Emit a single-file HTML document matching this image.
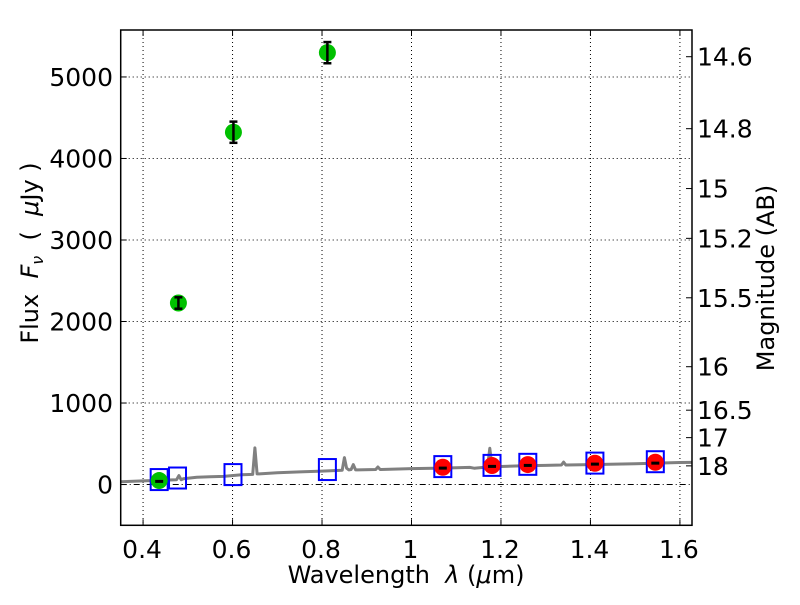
<!DOCTYPE html>
<html><head><meta charset="utf-8">
<style>
body{margin:0;background:#fff;}
svg text{font-family:"DejaVu Sans","Liberation Sans",sans-serif;fill:#000;}
</style></head>
<body>
<svg id="chart" width="800" height="600" viewBox="0 0 800 600" xmlns="http://www.w3.org/2000/svg">
<g id="grid"></g>
<g id="model"></g>
<g id="marks"></g>
<g id="axes"></g>
</svg>
<script>
const xTicks=[0.4,0.6,0.8,1.0,1.2,1.4,1.6];
const xTickLabels=["0.4","0.6","0.8","1","1.2","1.4","1.6"];
const yTicks=[0,1000,2000,3000,4000,5000];
const magTicks=[14.6,14.8,15,15.2,15.5,16,16.5,17,18];
const magTickLabels=["14.6","14.8","15","15.2","15.5","16","16.5","17","18"];
const greenWave=[0.436,0.479,0.602,0.812];
const greenFlux=[49,2227,4322,5298];
const greenErr=[8,70,130,130];
const redWave=[1.07,1.18,1.26,1.41,1.545];
const redFlux=[212,233,245,261,273];
const redErr=[8,8,8,8,8];
const modelWave=[0.436,0.477,0.601,0.812,1.07,1.18,1.26,1.41,1.545];
const modelFlux=[61,80,122,184,220,235,248,263,280];
const specWave=[0.35,0.40,0.45,0.475,0.48,0.485,0.49,0.52,0.55,0.58,0.62,0.645,0.65,0.655,0.66,0.70,0.75,0.80,0.845,0.85,0.855,0.86,0.865,0.87,0.875,0.88,0.92,0.925,0.93,1.0,1.05,1.1,1.13,1.14,1.17,1.175,1.18,1.185,1.19,1.25,1.3,1.335,1.34,1.345,1.4,1.5,1.6,1.627];
const specFlux=[35,45,55,60,110,60,70,90,95,100,120,125,450,130,130,145,155,165,175,330,200,180,185,245,180,180,185,215,185,195,200,205,210,200,215,445,220,215,220,230,235,240,275,240,245,255,270,272];
const X0=120.7,X1=692,Y0=30,Y1=525.3,xmin=0.35,xmax=1.627,ymin=-500,ymax=5576;
const sx=v=>X0+(v-xmin)/(xmax-xmin)*(X1-X0);
const sy=v=>Y1-(v-ymin)/(ymax-ymin)*(Y1-Y0);
const magToFlux=m=>3631e6*Math.pow(10,-0.4*m);
const NS="http://www.w3.org/2000/svg";
function mk(p,t,a){const e=document.createElementNS(NS,t);for(const k in a)e.setAttribute(k,a[k]);p.appendChild(e);return e;}
const grid=document.getElementById('grid'),axes=document.getElementById('axes'),marks=document.getElementById('marks'),model=document.getElementById('model');
xTicks.forEach((t,i)=>{
 const g=mk(grid,'line',{x1:sx(t),x2:sx(t),y1:Y0,y2:Y1,stroke:'#000','stroke-width':1,'stroke-dasharray':'1,3'});
 
 mk(axes,'line',{x1:sx(t),x2:sx(t),y1:Y1,y2:Y1-6,stroke:'#000'});
 mk(axes,'line',{x1:sx(t),x2:sx(t),y1:Y0,y2:Y0+6,stroke:'#000'});
 const l=mk(axes,'text',{x:sx(t)-1,y:558,'font-size':25,'text-anchor':'middle'});l.textContent=xTickLabels[i];
 
});
yTicks.forEach(t=>{
 const g=mk(grid,'line',{x1:X0,x2:X1,y1:sy(t),y2:sy(t),stroke:'#000','stroke-width':1,'stroke-dasharray':t===0?'6,3,1,3':'1,3'});
 
 mk(axes,'line',{x1:X0,x2:X0+6,y1:sy(t),y2:sy(t),stroke:'#000'});
 const l=mk(axes,'text',{x:113,y:sy(t)+9,'font-size':25,'text-anchor':'end'});l.textContent=String(t);
 
});
magTicks.forEach((m,i)=>{
 const y=sy(magToFlux(m));
 mk(axes,'line',{x1:X1,x2:X1-6,y1:y,y2:y,stroke:'#000'});
 const l=mk(axes,'text',{x:697,y:y+9,'font-size':25});l.textContent=magTickLabels[i];
 
});
let d=specWave.map((w,i)=>(i?'L':'M')+sx(w).toFixed(1)+','+sy(specFlux[i]).toFixed(1)).join('');
const sp=mk(model,'path',{d:d,fill:'none',stroke:'#808080','stroke-width':3,'stroke-linejoin':'round'});

modelWave.forEach((w,i)=>{
 const s=mk(marks,'rect',{x:sx(w)-8.5,y:sy(modelFlux[i])-10.5,width:17,height:21,fill:'none',stroke:'#0000ff','stroke-width':2});
 
});
function pts(ws,fs,es,col,name){
 ws.forEach((w,i)=>{
  const c=mk(marks,'circle',{cx:sx(w),cy:sy(fs[i]),r:8.5,fill:col});
  
  const x=sx(w),ya=sy(fs[i]+es[i]),yb=sy(fs[i]-es[i]);
  if(es[i]>20){
   mk(marks,'line',{x1:x,x2:x,y1:ya,y2:yb,stroke:'#000','stroke-width':2.5});
   mk(marks,'line',{x1:x-4,x2:x+4,y1:ya,y2:ya,stroke:'#000','stroke-width':2.5});
   mk(marks,'line',{x1:x-4,x2:x+4,y1:yb,y2:yb,stroke:'#000','stroke-width':2.5});
  } else {
   mk(marks,'rect',{x:x-4,y:ya,width:8,height:Math.max(3,yb-ya),fill:'#000'});
  }
 });
}
pts(greenWave,greenFlux,greenErr,'#00c000','optical-flux-point');
pts(redWave,redFlux,redErr,'#ff0000','nir-flux-point');
const fr=mk(axes,'rect',{x:X0,y:Y0,width:X1-X0,height:Y1-Y0,fill:'none',stroke:'#000','stroke-width':1.5});

</script>
<svg style="position:absolute;left:0;top:0" width="800" height="600">
<text x="406" y="583" font-size="24" text-anchor="middle" font-family="DejaVu Sans, Liberation Sans, sans-serif" xml:space="preserve">Wavelength  <tspan font-style="italic">λ</tspan> (<tspan font-style="italic">μ</tspan>m)</text>
<text transform="translate(38,253) rotate(-90)" font-size="24" text-anchor="middle" font-family="DejaVu Sans, Liberation Sans, sans-serif" xml:space="preserve">Flux  <tspan font-style="italic">F<tspan font-size="16" dy="5">ν</tspan></tspan><tspan dy="-5">  (  </tspan><tspan font-style="italic">μ</tspan>Jy )</text>
<text transform="translate(774,278) rotate(-90)" font-size="24" text-anchor="middle" font-family="DejaVu Sans, Liberation Sans, sans-serif">Magnitude (AB)</text>
</svg>
</body></html>
